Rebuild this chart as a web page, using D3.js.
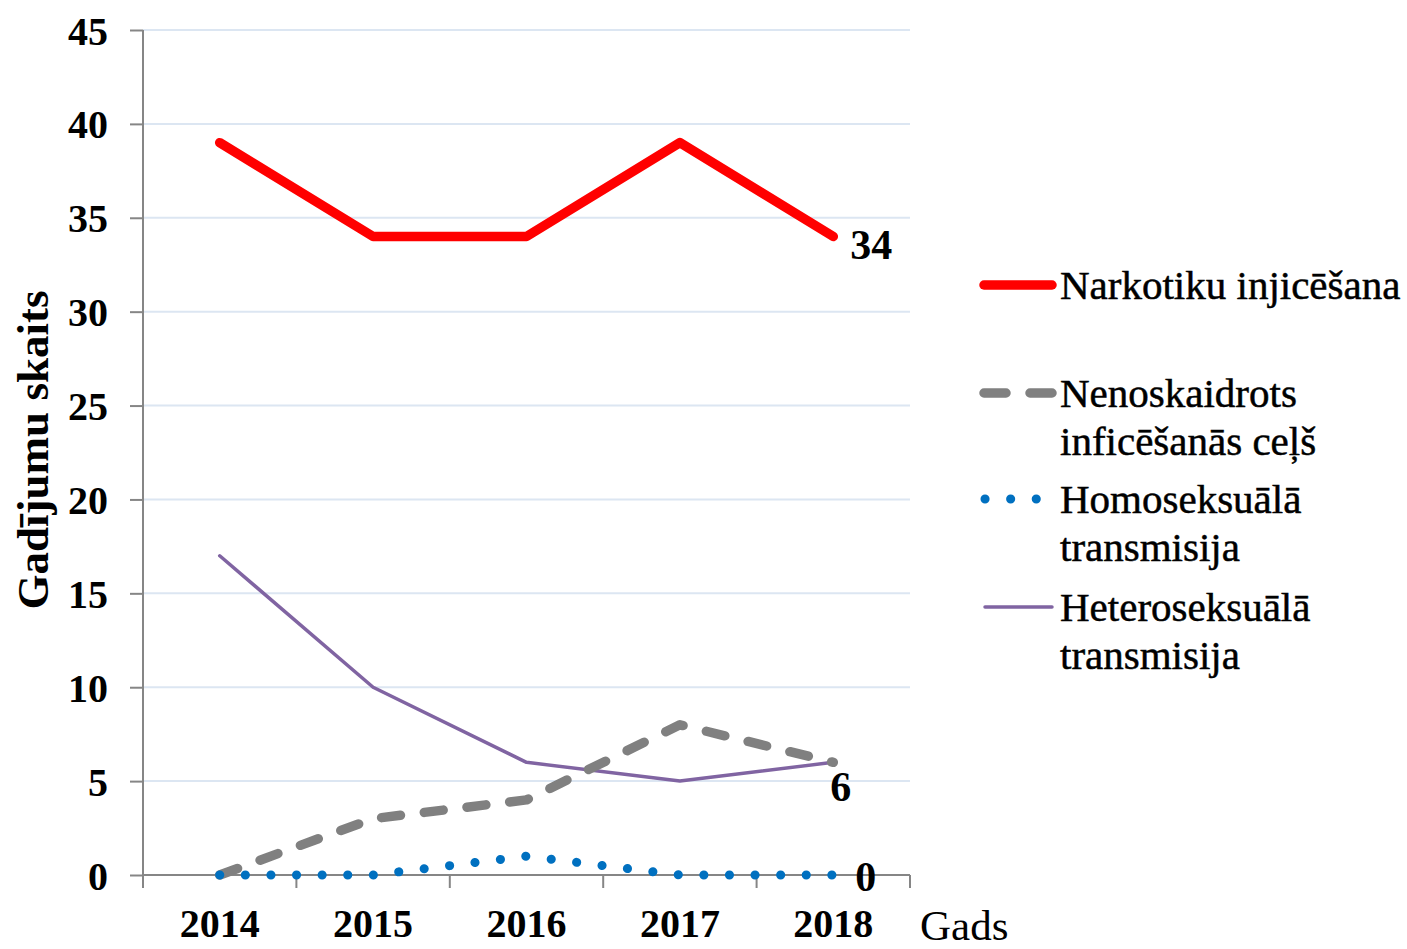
<!DOCTYPE html>
<html><head><meta charset="utf-8">
<script src="https://cdn.jsdelivr.net/npm/d3@7"></script>
<style>body{margin:0;background:#fff}svg{display:block}text{font-family:"Liberation Serif","Times New Roman",serif}</style>
</head><body><svg id="c" width="1407" height="949"></svg>
<script>
const years = ["2014","2015","2016","2017","2018"];
const narkotiku = [39,34,34,39,34];
const nenoskaidrots = [0,3,4,8,6];
const homoseksuala = [0,0,1,0,0];
const heteroseksuala = [17,10,6,5,6];
const yTicks = [0,5,10,15,20,25,30,35,40,45];
const seriesNames = ["Narkotiku injicēšana",["Nenoskaidrots","inficēšanās  ceļš"],["Homoseksuālā","transmisija"],["Heteroseksuālā","transmisija"]];

const svg = d3.select("#c");
const L=143,R=910,T=30,B=875;
const x = d3.scaleBand().domain(years).range([L,R]);
const y = d3.scaleLinear().domain([0,45]).range([B,T]);
const cx = d=>x(d)+x.bandwidth()/2;

svg.append("g").selectAll("line").data(yTicks.filter(t=>t>0)).join("line")
 .attr("x1",L).attr("x2",R).attr("y1",d=>y(d)).attr("y2",d=>y(d))
 .attr("stroke","#dce6f2").attr("stroke-width",2);

const ya = svg.append("g").attr("transform",`translate(${L},0)`)
 .call(d3.axisLeft(y).tickValues(yTicks).tickSize(13).tickPadding(22));
ya.select(".domain").remove();
ya.selectAll(".tick line").attr("stroke","#868686").attr("stroke-width",2);
ya.selectAll("text").attr("font-size",40).attr("font-weight","bold").attr("fill","#000")
 .attr("font-family","Liberation Serif").attr("dy","0.35em");
svg.append("line").attr("x1",L).attr("x2",L).attr("y1",T).attr("y2",B+13).attr("stroke","#868686").attr("stroke-width",2);

const xa = svg.append("g").attr("transform",`translate(0,${B})`)
 .call(d3.axisBottom(x).tickSize(0).tickPadding(34));
xa.select(".domain").remove();
xa.selectAll("text").attr("font-size",40).attr("font-weight","bold").attr("fill","#000").attr("font-family","Liberation Serif");
svg.append("line").attr("x1",L).attr("x2",R).attr("y1",B).attr("y2",B).attr("stroke","#868686").attr("stroke-width",2);
svg.append("g").selectAll("line").data(d3.range(years.length+1)).join("line")
 .attr("x1",i=>L+i*x.step()).attr("x2",i=>L+i*x.step()).attr("y1",B).attr("y2",B+13)
 .attr("stroke","#868686").attr("stroke-width",2);

const line = d3.line().x((d,i)=>cx(years[i])).y(d=>y(d));
const styles = [
 {data:narkotiku,color:"#ff0000",w:9.5,dash:null},
 {data:nenoskaidrots,color:"#808080",w:9.5,dash:"19,24"},
 {data:homoseksuala,color:"#0070c0",w:9,dash:"0.1,25.5"},
 {data:heteroseksuala,color:"#8064a2",w:3.5,dash:null}
];
[3,1,2,0].forEach(k=>{
 const s=styles[k];
 svg.append("path").attr("d",line(s.data)).attr("fill","none").attr("stroke",s.color)
  .attr("stroke-width",s.w).attr("stroke-linecap","round").attr("stroke-linejoin","round")
  .attr("stroke-dasharray",s.dash);
});

const lab = (v,dx,dy)=>svg.append("text").attr("x",cx("2018")+dx).attr("y",y(v)+dy)
 .attr("font-size",42).attr("font-weight","bold").text(v);
lab(narkotiku[4],17,22);
lab(nenoskaidrots[4],-3,39);
lab(homoseksuala[4],22,16);

svg.append("text").attr("transform","translate(48,450) rotate(-90)").attr("text-anchor","middle")
 .attr("font-size",45).attr("font-weight","bold").text("Gadījumu skaits");
svg.append("text").attr("x",920).attr("y",940).attr("font-size",43).text("Gads");

const legY=[285,393,499,607];
const legX1=[984,984,985,985], legX2=[1052,1052,1038,1052];
styles.forEach((s,i)=>{
 svg.append("line").attr("x1",legX1[i]).attr("x2",legX2[i]).attr("y1",legY[i]).attr("y2",legY[i])
  .attr("stroke",s.color).attr("stroke-width",s.w).attr("stroke-linecap","round")
  .attr("stroke-dasharray",i==1?"22,24":i==2?"0.1,25.5":null);
 const names = Array.isArray(seriesNames[i])?seriesNames[i]:[seriesNames[i]];
 names.forEach((n,j)=>svg.append("text").attr("x",1060).attr("y",legY[i]+14+j*48)
  .attr("font-size",41).attr("stroke","#000").attr("stroke-width",0.5).text(n));
});
</script></body></html>
